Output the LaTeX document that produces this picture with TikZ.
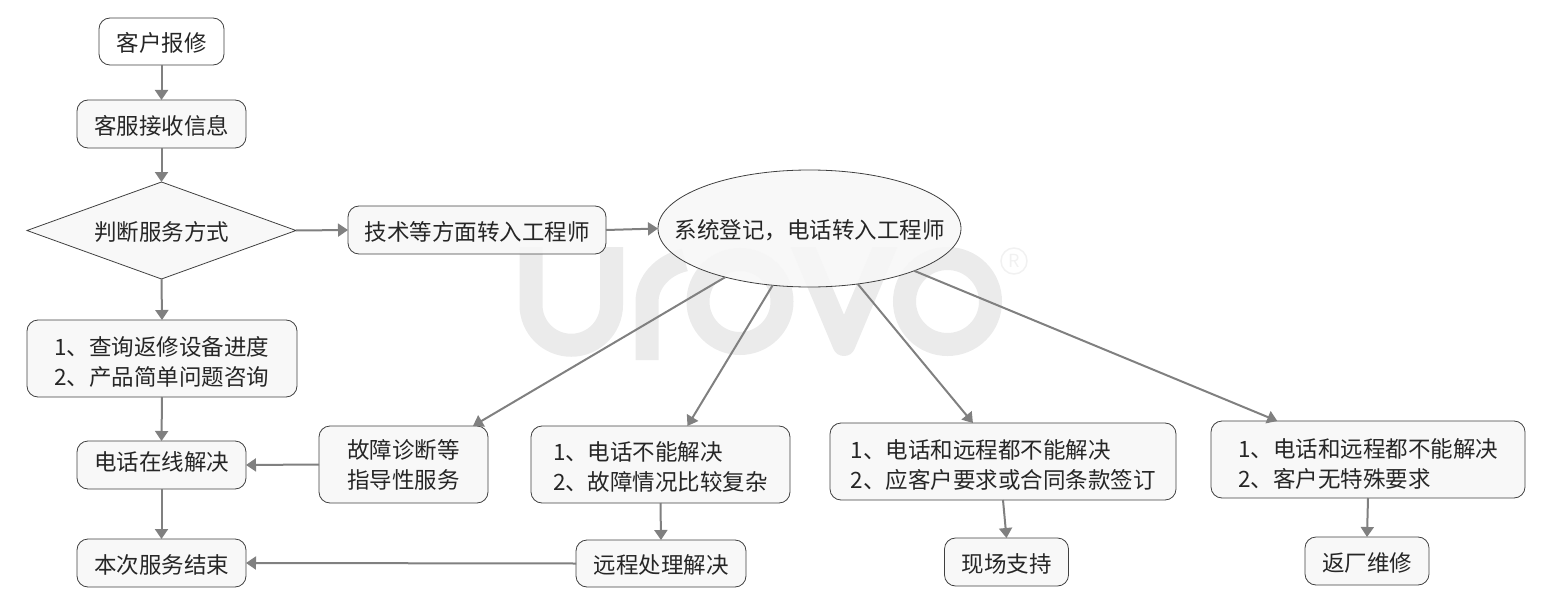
\documentclass[tikz,border=0pt]{standalone}
\usepackage{fontspec}
\setmainfont{Noto Sans CJK SC}
\usetikzlibrary{arrows.meta,shapes.geometric}
\definecolor{boxfill}{HTML}{F7F7F7}
\definecolor{boxline}{HTML}{404040}
\definecolor{connline}{HTML}{808080}
\definecolor{wmark}{HTML}{EBEBEB}
\tikzset{
  chart/.style={draw=boxline,line width=0.8pt,fill=boxfill,fill opacity=.85,text opacity=1,text=black!85,inner sep=0pt,outer sep=0pt,font=\fontsize{22.5}{30}\selectfont,align=left,execute at begin node={\rule{0pt}{22pt}}},
  flowbox/.style={chart,rounded corners=11pt},
  conn/.style={draw=connline,line width=2pt,-{Triangle[length=10pt,width=13pt]}},
  wmstroke/.style={draw=wmark,line width=23pt}
}
\begin{document}
\begin{tikzpicture}[x=1pt,y=-1pt]
\useasboundingbox (0,0) rectangle (1543,602);
\begin{scope}
\clip (500,247) rectangle (1005,360);
\draw[wmstroke] (531,240)--(531,305) arc[start angle=180,end angle=0,radius=40.25]--(611.5,240);
\draw[wmstroke] (647,360)--(647,302) arc[start angle=180,end angle=255,x radius=51,y radius=43.5];
\draw[wmstroke] (740,301.5) circle[radius=42];
\draw[wmstroke,line join=round] (798,235)--(844,344.5)--(890,235);
\draw[wmstroke] (947.5,301.5) circle[radius=43];
\end{scope}
\node[draw=wmark!70!white,line width=1.5pt,circle,minimum size=26pt,inner sep=0pt,text=wmark!70!white,font=\fontsize{18}{18}\selectfont] (regmark) at (1014,261) {R};
\node[flowbox,fill=white,minimum width=125pt,minimum height=47pt] (report) at (161.5,41.5) {客户报修};
\node[flowbox,minimum width=169pt,minimum height=48pt] (recv) at (161.5,124) {客服接收信息};
\node[chart,diamond,aspect=2.77,minimum width=269pt,minimum height=97pt] (judge) at (161.5,230.5) {判断服务方式};
\node[flowbox,minimum width=258pt,minimum height=48pt] (tech) at (477,230) {技术等方面转入工程师};
\node[chart,ellipse,inner xsep=-28.2pt,minimum width=303pt,minimum height=117pt] (sys) at (809.5,228.5) {系统登记，电话转入工程师};
\node[flowbox,minimum width=270pt,minimum height=77pt] (query) at (162,358.5) {\rule{0pt}{26pt}1、查询返修设备进度\\2、产品简单问题咨询};
\node[flowbox,minimum width=169pt,minimum height=48pt] (online) at (161.5,465) {\rule[-12pt]{0pt}{1pt}电话在线解决};
\node[flowbox,minimum width=169pt,minimum height=48pt] (finish) at (161.5,563) {本次服务结束};
\node[flowbox,minimum width=169pt,minimum height=77pt] (guide) at (403.5,464.5) {故障诊断等\\指导性服务};
\node[flowbox,minimum width=259pt,minimum height=77pt] (hard) at (660.5,464.5) {\rule{0pt}{24pt}1、电话不能解决\\2、故障情况比较复杂};
\node[flowbox,minimum width=346pt,minimum height=77pt] (visitreq) at (1003,461.5) {\rule{0pt}{26pt}1、电话和远程都不能解决\\2、应客户要求或合同条款签订};
\node[flowbox,minimum width=314pt,minimum height=77pt] (backreq) at (1368,459.5) {\rule{0pt}{28pt}1、电话和远程都不能解决\hspace{8pt}\\2、客户无特殊要求};
\node[flowbox,minimum width=170pt,minimum height=47pt] (remote) at (661,563.5) {远程处理解决};
\node[flowbox,minimum width=124pt,minimum height=48pt] (visit) at (1006.5,562) {现场支持};
\node[flowbox,minimum width=124pt,minimum height=48pt] (back) at (1367,561) {返厂维修};
\draw[conn] (report.south)--(recv.north);
\draw[conn] (recv.south)--(judge.north);
\draw[conn] (judge.east)--(tech.west);
\draw[conn] (tech.east)--(sys.west);
\draw[conn] (judge.south)--(query.north);
\draw[conn] (query.south)--(online.north);
\draw[conn] (online.south)--(finish.north);
\draw[conn] (guide.west)--(online.east);
\draw[conn] (remote.west)--(finish.east);
\draw[conn] (hard.south)--(remote.north);
\draw[conn] (visitreq.south)--(visit.north);
\draw[conn] (backreq.south)--(back.north);
\draw[conn] (sys.210.5)--(guide.29.7);
\draw[conn] (sys.237.9)--(hard.55.5);
\draw[conn] (sys.-49.4)--(visitreq.128.8);
\draw[conn] (sys.-22.8)--(backreq.157.1);
\end{tikzpicture}
\end{document}
